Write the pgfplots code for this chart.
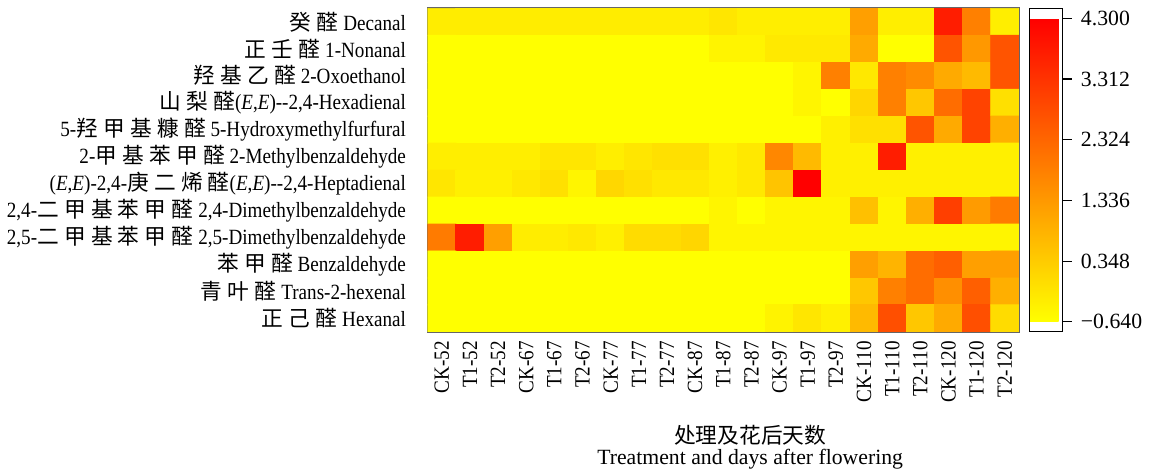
\documentclass[border=0pt]{standalone}
\usepackage{fontspec}
\setmainfont{Liberation Serif}
\newfontfamily\tickfamily{Liberation Serif}[FakeStretch=0.88]
\newfontfamily\cjk{Noto Sans CJK SC}[LetterSpace=24]
\newfontfamily\cjkx{Noto Sans CJK SC}
\usepackage{pgfplots}
\pgfplotsset{compat=1.18}
\begin{document}
\begin{tikzpicture}
\begin{axis}[
  name=main,
  scale only axis, width=285.7pt, height=156.4pt,
  xmin=-0.5, xmax=20.5, ymin=-0.5, ymax=11.5,
  y dir=reverse,
  xtick={0,...,20},
  xticklabels={CK-52,T1-52,T2-52,CK-67,T1-67,T2-67,CK-77,T1-77,T2-77,CK-87,T1-87,T2-87,CK-97,T1-97,T2-97,CK-110,T1-110,T2-110,CK-120,T1-120,T2-120},
  xticklabel style={rotate=90, anchor=east, font=\fontsize{10.5}{12}\tickfamily, xshift=-1pt},
  ytick={0,...,11},
  yticklabels={
    {{\cjk 癸醛} Decanal},
    {{\cjk 正壬醛} 1-Nonanal},
    {{\cjk 羟基乙醛} 2-Oxoethanol},
    {{\cjk 山梨醛}(\textit{E},\textit{E})-{}-2,4-Hexadienal},
    {5-{\cjk 羟甲基糠醛} 5-Hydroxymethylfurfural},
    {2-{\cjk 甲基苯甲醛} 2-Methylbenzaldehyde},
    {(\textit{E},\textit{E})-2,4-{\cjk 庚二烯醛}(\textit{E},\textit{E})-{}-2,4-Heptadienal},
    {2,4-{\cjk 二甲基苯甲醛} 2,4-Dimethylbenzaldehyde},
    {2,5-{\cjk 二甲基苯甲醛} 2,5-Dimethylbenzaldehyde},
    {{\cjk 苯甲醛} Benzaldehyde},
    {{\cjk 青叶醛} Trans-2-hexenal},
    {{\cjk 正己醛} Hexanal}},
  yticklabel style={font=\fontsize{10.5}{12}\tickfamily, xshift=-7pt},
  tick align=inside,
  major tick length=4.5pt,
  xtick pos=bottom, ytick pos=left,
  tick style={black, line width=0.6pt},
  axis line style={draw=gray!80!black, line width=0.8pt},
  xlabel={{\cjkx 处理及花后天数}\\[-2pt]Treatment and days after flowering},
  xlabel style={align=center, font=\fontsize{10.5}{12}\selectfont, yshift=-4pt, xshift=13pt},
  colormap={yr}{rgb255=(255,255,0) rgb255=(255,0,0)},
  point meta min=-0.64, point meta max=4.3,
  colorbar,
  colorbar shift/.style={xshift=5pt},
  colorbar style={
    at={(parent axis.north east)}, anchor=north west,
    scale only axis, width=16pt, height=156.4pt,
    ymin=-0.803, ymax=4.463,
    ytick={-0.64,0.348,1.336,2.324,3.312,4.3},
    yticklabels={−0.640,0.348,1.336,2.324,3.312,4.300},
    ytick pos=right, yticklabel pos=right,
    tick align=outside, major tick length=4.5pt,
    tick style={black, line width=0.6pt},
    axis line style={black, line width=0.6pt},
    yticklabel style={font=\fontsize{10.5}{12}\selectfont, xshift=1pt},
  },
]
\addplot[matrix plot*, mesh/cols=21, point meta=explicit] table[row sep=\\, meta=v] {
x y v\\
0 0 -0.30\\ 1 0 -0.30\\ 2 0 -0.30\\ 3 0 -0.30\\ 4 0 -0.30\\ 5 0 -0.30\\ 6 0 -0.30\\ 7 0 -0.30\\ 8 0 -0.30\\ 9 0 -0.30\\ 10 0 -0.15\\ 11 0 -0.32\\ 12 0 -0.32\\ 13 0 -0.32\\ 14 0 -0.32\\ 15 0 1.20\\ 16 0 -0.32\\ 17 0 -0.32\\ 18 0 3.70\\ 19 0 1.80\\ 20 0 -0.32\\
0 1 -0.64\\ 1 1 -0.64\\ 2 1 -0.64\\ 3 1 -0.64\\ 4 1 -0.64\\ 5 1 -0.64\\ 6 1 -0.64\\ 7 1 -0.64\\ 8 1 -0.64\\ 9 1 -0.64\\ 10 1 -0.42\\ 11 1 -0.42\\ 12 1 -0.22\\ 13 1 -0.22\\ 14 1 -0.22\\ 15 1 1.00\\ 16 1 -0.64\\ 17 1 -0.64\\ 18 1 2.65\\ 19 1 1.34\\ 20 1 2.65\\
0 2 -0.64\\ 1 2 -0.64\\ 2 2 -0.64\\ 3 2 -0.64\\ 4 2 -0.64\\ 5 2 -0.64\\ 6 2 -0.64\\ 7 2 -0.64\\ 8 2 -0.64\\ 9 2 -0.64\\ 10 2 -0.64\\ 11 2 -0.64\\ 12 2 -0.64\\ 13 2 -0.45\\ 14 2 1.80\\ 15 2 -0.20\\ 16 2 1.80\\ 17 2 1.59\\ 18 2 1.00\\ 19 2 0.68\\ 20 2 2.65\\
0 3 -0.64\\ 1 3 -0.64\\ 2 3 -0.64\\ 3 3 -0.64\\ 4 3 -0.64\\ 5 3 -0.64\\ 6 3 -0.64\\ 7 3 -0.64\\ 8 3 -0.64\\ 9 3 -0.64\\ 10 3 -0.64\\ 11 3 -0.64\\ 12 3 -0.64\\ 13 3 -0.45\\ 14 3 -0.64\\ 15 3 0.15\\ 16 3 1.80\\ 17 3 0.43\\ 18 3 2.17\\ 19 3 2.98\\ 20 3 -0.04\\
0 4 -0.64\\ 1 4 -0.64\\ 2 4 -0.64\\ 3 4 -0.64\\ 4 4 -0.64\\ 5 4 -0.64\\ 6 4 -0.64\\ 7 4 -0.64\\ 8 4 -0.64\\ 9 4 -0.64\\ 10 4 -0.64\\ 11 4 -0.64\\ 12 4 -0.64\\ 13 4 -0.64\\ 14 4 -0.35\\ 15 4 -0.04\\ 16 4 -0.04\\ 17 4 2.65\\ 18 4 1.00\\ 19 4 2.98\\ 20 4 0.90\\
0 5 -0.32\\ 1 5 -0.32\\ 2 5 -0.32\\ 3 5 -0.32\\ 4 5 -0.16\\ 5 5 -0.16\\ 6 5 -0.32\\ 7 5 -0.16\\ 8 5 -0.04\\ 9 5 -0.04\\ 10 5 -0.35\\ 11 5 -0.20\\ 12 5 1.66\\ 13 5 0.68\\ 14 5 -0.35\\ 15 5 -0.35\\ 16 5 3.70\\ 17 5 -0.35\\ 18 5 -0.35\\ 19 5 -0.35\\ 20 5 -0.35\\
0 6 -0.16\\ 1 6 -0.35\\ 2 6 -0.35\\ 3 6 -0.20\\ 4 6 -0.04\\ 5 6 -0.45\\ 6 6 0.12\\ 7 6 -0.04\\ 8 6 -0.20\\ 9 6 -0.20\\ 10 6 -0.35\\ 11 6 -0.20\\ 12 6 0.50\\ 13 6 4.30\\ 14 6 -0.35\\ 15 6 -0.35\\ 16 6 -0.35\\ 17 6 -0.35\\ 18 6 -0.35\\ 19 6 -0.35\\ 20 6 -0.35\\
0 7 -0.64\\ 1 7 -0.64\\ 2 7 -0.64\\ 3 7 -0.64\\ 4 7 -0.64\\ 5 7 -0.64\\ 6 7 -0.64\\ 7 7 -0.64\\ 8 7 -0.64\\ 9 7 -0.64\\ 10 7 -0.45\\ 11 7 -0.64\\ 12 7 -0.45\\ 13 7 -0.45\\ 14 7 -0.45\\ 15 7 0.58\\ 16 7 -0.45\\ 17 7 0.89\\ 18 7 3.06\\ 19 7 1.28\\ 20 7 1.90\\
0 8 1.90\\ 1 8 3.70\\ 2 8 1.20\\ 3 8 -0.30\\ 4 8 -0.30\\ 5 8 -0.20\\ 6 8 -0.35\\ 7 8 0.04\\ 8 8 0.04\\ 9 8 0.15\\ 10 8 -0.45\\ 11 8 -0.45\\ 12 8 -0.45\\ 13 8 -0.45\\ 14 8 -0.45\\ 15 8 -0.45\\ 16 8 -0.45\\ 17 8 -0.45\\ 18 8 -0.45\\ 19 8 -0.45\\ 20 8 -0.45\\
0 9 -0.64\\ 1 9 -0.64\\ 2 9 -0.64\\ 3 9 -0.64\\ 4 9 -0.64\\ 5 9 -0.64\\ 6 9 -0.64\\ 7 9 -0.64\\ 8 9 -0.64\\ 9 9 -0.64\\ 10 9 -0.64\\ 11 9 -0.64\\ 12 9 -0.64\\ 13 9 -0.64\\ 14 9 -0.64\\ 15 9 1.20\\ 16 9 0.81\\ 17 9 2.17\\ 18 9 2.44\\ 19 9 1.20\\ 20 9 1.20\\
0 10 -0.64\\ 1 10 -0.64\\ 2 10 -0.64\\ 3 10 -0.64\\ 4 10 -0.64\\ 5 10 -0.64\\ 6 10 -0.64\\ 7 10 -0.64\\ 8 10 -0.64\\ 9 10 -0.64\\ 10 10 -0.64\\ 11 10 -0.64\\ 12 10 -0.64\\ 13 10 -0.64\\ 14 10 -0.64\\ 15 10 0.43\\ 16 10 1.80\\ 17 10 2.17\\ 18 10 1.51\\ 19 10 2.44\\ 20 10 0.90\\
0 11 -0.64\\ 1 11 -0.64\\ 2 11 -0.64\\ 3 11 -0.64\\ 4 11 -0.64\\ 5 11 -0.64\\ 6 11 -0.64\\ 7 11 -0.64\\ 8 11 -0.64\\ 9 11 -0.64\\ 10 11 -0.64\\ 11 11 -0.64\\ 12 11 -0.40\\ 13 11 -0.16\\ 14 11 -0.35\\ 15 11 0.68\\ 16 11 2.75\\ 17 11 0.43\\ 18 11 1.00\\ 19 11 2.75\\ 20 11 0.04\\
};
\end{axis}
\path ([yshift=4pt]main.north west);
\end{tikzpicture}
\end{document}
